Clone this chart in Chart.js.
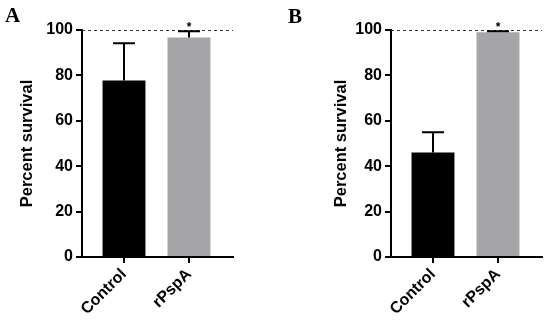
<!DOCTYPE html>
<html>
<head>
<meta charset="utf-8">
<script src="https://cdn.jsdelivr.net/npm/chart.js@4.4.0/dist/chart.umd.min.js"></script>
<style>
  body { margin: 0; background: #fff; }
  #wrap { position: relative; width: 550px; height: 324px; overflow: hidden; background: #fff; }
  canvas { position: absolute; top: 0; }
  .panel-letter {
    position: absolute;
    font-family: "Liberation Serif", "Times New Roman", serif;
    font-weight: bold;
    font-size: 21px;
    line-height: 21px;
  }
</style>
</head>
<body>
<div id="wrap">
  <canvas id="chartA" width="275" height="324" style="left:0px"></canvas>
  <canvas id="chartB" width="275" height="324" style="left:309px"></canvas>
  <div class="panel-letter" style="left:5px; top:5px">A</div>
  <div class="panel-letter" style="left:288px; top:6px">B</div>
</div>
<script>
// ---------- data ----------
const categories = ["Control", "rPspA"];
const barColors = ["#000000", "#a6a6a8"];
const panelAValues = [77.7, 96.7];
const panelAErrors = [16.5, 2.7]; // upper SD only
const panelBValues = [46, 99];
const panelBErrors = [9, 0.5];
const significance = ["", "*"];
const yMax = 100;
const yStep = 20;

const FONT = 'Arial, "Liberation Sans", sans-serif';

// ---------- dashed 100% line + error bars + asterisk ----------
const decorPlugin = {
  id: "decor",
  beforeDatasetsDraw(chart) {
    const { ctx, chartArea, scales } = chart;
    const y = scales.y.getPixelForValue(yMax);
    ctx.save();
    ctx.strokeStyle = "#333";
    ctx.lineWidth = 1;
    ctx.setLineDash([3, 3]);
    ctx.beginPath();
    ctx.moveTo(chartArea.left, y + 0.5);
    ctx.lineTo(chartArea.right, y + 0.5);
    ctx.stroke();
    ctx.restore();
  },
  afterDatasetsDraw(chart) {
    const { ctx, scales } = chart;
    const opts = chart.options.plugins.decor;
    const meta = chart.getDatasetMeta(0);
    ctx.save();
    ctx.strokeStyle = "#000";
    ctx.lineWidth = 2;
    meta.data.forEach((bar, i) => {
      const v = opts.values[i];
      const top = scales.y.getPixelForValue(v + opts.errors[i]);
      const base = scales.y.getPixelForValue(v);
      const x = Math.round(bar.x);
      ctx.beginPath();
      ctx.moveTo(x, base);
      ctx.lineTo(x, top);
      ctx.moveTo(x - 11, top);
      ctx.lineTo(x + 11, top);
      ctx.stroke();
      if (significance[i]) {
        ctx.fillStyle = "#000";
        ctx.font = "bold 12px " + FONT;
        ctx.textAlign = "center";
        ctx.textBaseline = "alphabetic";
        ctx.fillText(significance[i], x, scales.y.getPixelForValue(yMax) + 1);
      }
    });
    ctx.restore();
  },
};

function makePanel(canvasId, values, errors, titlePad) {
  const ctx = document.getElementById(canvasId).getContext("2d");
  return new Chart(ctx, {
    type: "bar",
    data: {
      datasets: [
        {
          data: categories.map((c, i) => ({ x: i, y: values[i] })),
          backgroundColor: barColors,
          borderWidth: 0,
          categoryPercentage: 1,
          barPercentage: 0.66,
        },
      ],
    },
    options: {
      responsive: false,
      animation: false,
      devicePixelRatio: 1,
      layout: { padding: { left: 0, top: 30, right: 42, bottom: 0 } },
      plugins: {
        legend: { display: false },
        tooltip: { enabled: false },
        decor: { values: values, errors: errors },
      },
      scales: {
        x: {
          type: "linear",
          offset: false,
          min: -0.646,
          max: 1.677,
          afterBuildTicks: (scale) => {
            scale.ticks = categories.map((c, i) => ({ value: i }));
          },
          afterFit: (scale) => {
            scale.height = 67;
          },
          grid: {
            offset: false,
            drawOnChartArea: false,
            drawTicks: true,
            tickLength: 6,
            color: "#000",
            lineWidth: 2,
          },
          border: { display: true, color: "#000", width: 2 },
          ticks: {
            autoSkip: false,
            maxRotation: 45,
            minRotation: 45,
            padding: 2,
            color: "#000",
            font: { family: FONT, size: 16, weight: "bold" },
            callback: (value) => categories[value],
          },
        },
        y: {
          min: 0,
          max: yMax,
          afterFit: (scale) => {
            scale.width = 82;
          },
          grid: {
            drawOnChartArea: false,
            drawTicks: true,
            tickLength: 6,
            color: "#000",
            lineWidth: 2,
          },
          border: { display: true, color: "#000", width: 2 },
          ticks: {
            stepSize: yStep,
            padding: 3,
            color: "#000",
            font: { family: FONT, size: 16, weight: "bold" },
          },
          title: {
            display: true,
            text: "Percent survival",
            color: "#000",
            padding: { top: titlePad, bottom: 0 },
            font: { family: FONT, size: 16.5, weight: "bold" },
          },
        },
      },
    },
    plugins: [decorPlugin],
  });
}

makePanel("chartA", panelAValues, panelAErrors, 18);
makePanel("chartB", panelBValues, panelBErrors, 23);
</script>
</body>
</html>
